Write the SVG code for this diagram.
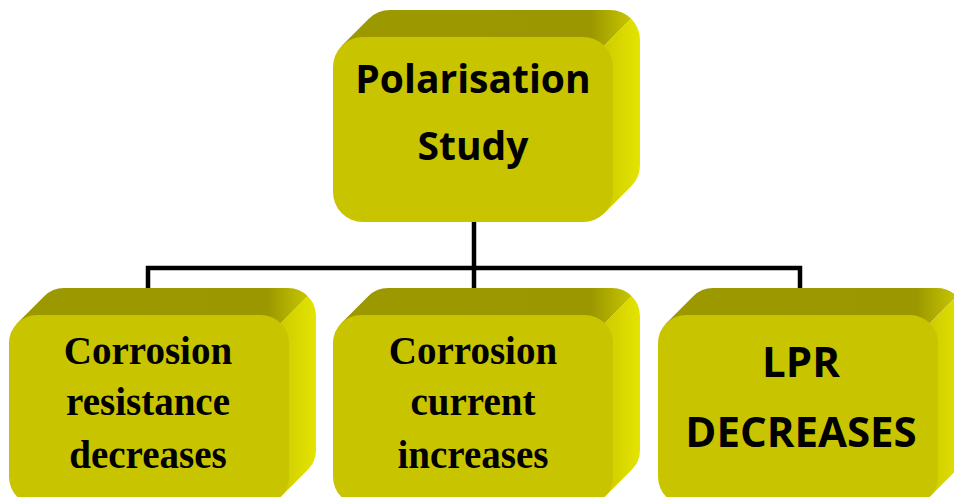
<svg xmlns="http://www.w3.org/2000/svg" xmlns:xlink="http://www.w3.org/1999/xlink" width="954" height="497" viewBox="0 0 954 497">
<style>
.front{fill:#c8c400;}
.top{fill:url(#gTop);}
.side{fill:url(#gSide);}
.sans{font-family:"Open Sans","Noto Sans","Liberation Sans",sans-serif;font-weight:bold;fill:#000;text-anchor:middle;}
.serif{font-family:"Liberation Serif","Times New Roman",serif;font-weight:bold;fill:#000;text-anchor:middle;font-size:39px;}
.conn{stroke:#000;stroke-width:4.5;fill:none;stroke-linecap:square;}
</style>
<defs>
<linearGradient id="gTop" x1="0" y1="0" x2="1" y2="0">
<stop offset="0" stop-color="#9c9900"/>
<stop offset="0.86" stop-color="#9a9700"/>
<stop offset="1" stop-color="#c8c600"/>
</linearGradient>
<linearGradient id="gSide" x1="0" y1="0" x2="1" y2="0">
<stop offset="0" stop-color="#cfcc00"/>
<stop offset="1" stop-color="#e4e400"/>
</linearGradient>
<path id="topT" class="top" d="M8.79,8.79 L35.79,-18.21 A30 30 0 0 1 57,-27 H277 A30 30 0 0 1 298.21,-18.21 L271.21,8.79 Z"/>
<path id="topS" class="side" d="M298.21,-18.21 A30 30 0 0 1 307,3 V128 A30 30 0 0 1 298.21,149.21 L271.21,176.21 V8.79 Z"/>
<path id="botT" class="top" d="M8.2,8.2 L35.2,-18.8 A28 28 0 0 1 55,-27 H279 A28 28 0 0 1 298.8,-18.8 L271.8,8.2 Z"/>
<path id="botS" class="side" d="M298.8,-18.8 A28 28 0 0 1 307,1 V135 A28 28 0 0 1 298.8,154.8 L271.8,181.8 V8.2 Z"/>
</defs>
<g id="connectors">
<path class="conn" d="M474,222 V288"/>
<path class="conn" d="M148,288 V268 H800 V288"/>
</g>
<g id="node-polarisation" transform="translate(333,37)">
<use xlink:href="#topT"/>
<use xlink:href="#topS"/>
<rect class="front" x="0" y="0" width="280" height="185" rx="30" ry="30"/>
<text class="sans" x="140" y="56" font-size="39">Polarisation</text>
<text class="sans" x="140" y="123" font-size="39">Study</text>
</g>
<g id="node-resistance" transform="translate(9,315)">
<use xlink:href="#botT"/>
<use xlink:href="#botS"/>
<rect class="front" x="0" y="0" width="280" height="190" rx="28" ry="28"/>
<text class="serif" x="139" y="49">Corrosion</text>
<text class="serif" x="139" y="100">resistance</text>
<text class="serif" x="139" y="153">decreases</text>
</g>
<g id="node-current" transform="translate(333,315)">
<use xlink:href="#botT"/>
<use xlink:href="#botS"/>
<rect class="front" x="0" y="0" width="280" height="190" rx="28" ry="28"/>
<text class="serif" x="140" y="49">Corrosion</text>
<text class="serif" x="140" y="100">current</text>
<text class="serif" x="140" y="153">increases</text>
</g>
<g id="node-lpr" transform="translate(658,315)">
<use xlink:href="#botT"/>
<use xlink:href="#botS"/>
<rect class="front" x="0" y="0" width="280" height="190" rx="28" ry="28"/>
<text class="sans" x="143" y="62" font-size="42">LPR</text>
<text class="sans" x="143" y="132" font-size="42">DECREASES</text>
</g>
</svg>
